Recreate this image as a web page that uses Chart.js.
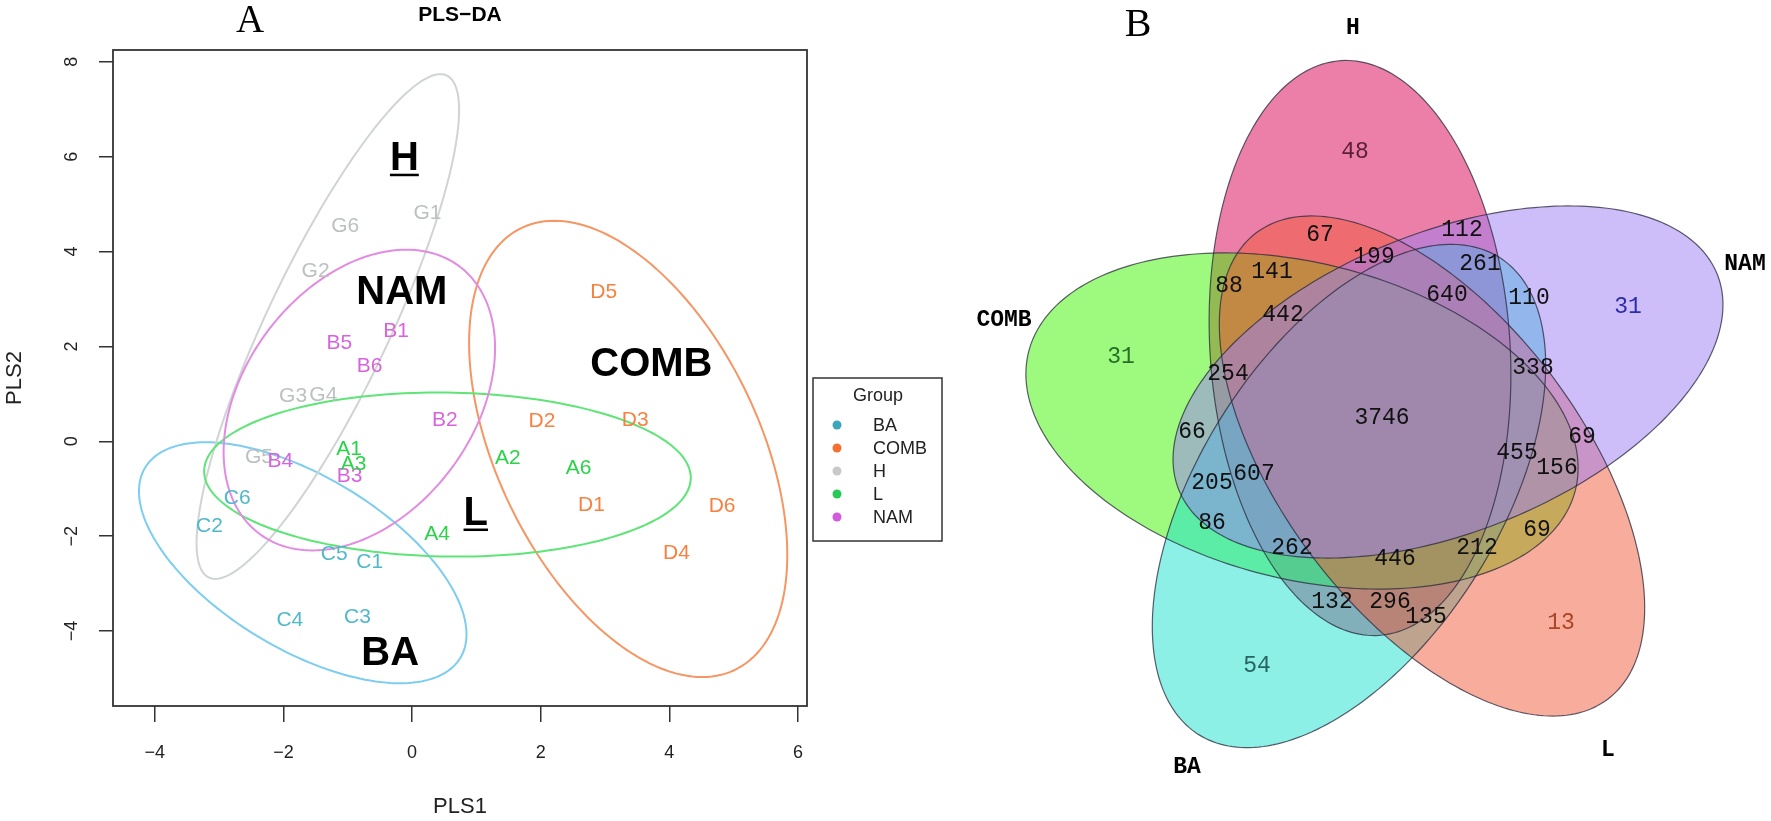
<!DOCTYPE html>
<html>
<head>
<meta charset="utf-8">
<script src="https://cdn.jsdelivr.net/npm/chart.js@4.4.0/dist/chart.umd.min.js"></script>
<style>
  html, body { margin: 0; padding: 0; background: #fff; }
  #wrapA { position: absolute; left: 0; top: 0; width: 960px; height: 821px; }
  #wrapB { position: absolute; left: 960px; top: 0; width: 811px; height: 821px; }
</style>
</head>
<body>
<div id="wrapA"><canvas id="chartA"></canvas></div>
<div id="wrapB"><canvas id="chartB"></canvas></div>
<script>
// -----------------------------------------------
// Panel A : PLS-DA score plot
// -----------------------------------------------
const groups = ["BA", "COMB", "H", "L", "NAM"];
const xTicks = [-4, -2, 0, 2, 4, 6];
const yTicks = [-4, -2, 0, 2, 4, 6, 8];

const hNames = ["G1", "G2", "G3", "G4", "G5", "G6"];
const hX = [0.24, -1.50, -1.85, -1.38, -2.38, -1.04];
const hY = [4.81, 3.58, 0.95, 0.98, -0.33, 4.53];

const baNames = ["C1", "C2", "C3", "C4", "C5", "C6"];
const baX = [-0.66, -3.15, -0.85, -1.90, -1.21, -2.72];
const baY = [-2.54, -1.80, -3.71, -3.78, -2.37, -1.20];

const combNames = ["D1", "D2", "D3", "D4", "D5", "D6"];
const combX = [2.79, 2.02, 3.47, 4.11, 2.98, 4.82];
const combY = [-1.34, 0.42, 0.44, -2.36, 3.14, -1.37];

const namNames = ["B1", "B2", "B3", "B4", "B5", "B6"];
const namX = [-0.25, 0.51, -0.97, -2.05, -1.13, -0.66];
const namY = [2.32, 0.44, -0.73, -0.42, 2.06, 1.58];

const lNames = ["A1", "A2", "A3", "A4", "A6"];
const lX = [-0.98, 1.49, -0.91, 0.39, 2.59];
const lY = [-0.16, -0.35, -0.49, -1.95, -0.56];

// confidence ellipses: centre, top conjugate radius (u), horizontal half chord (v)
const ellGroups = ["BA", "COMB", "H", "L", "NAM"];
const ellCx = [-1.70, 3.36, -1.31, 0.55, -0.82];
const ellCy = [-2.56, -0.16, 2.42, -0.70, 0.87];
const ellUx = [-1.51, -1.15, 1.75, -0.15, 0.73];
const ellUy = [2.54, 4.81, 5.32, 1.73, 3.17];
const ellVx = [2.05, 2.19, 1.05, 3.78, 1.98];

// big group names written inside the plot
const bigNames = ["H", "NAM", "COMB", "L", "BA"];
const bigX = [-0.12, -0.16, 3.72, 0.99, -0.34];
const bigY = [6.00, 3.16, 1.65, -1.48, -4.44];
const bigUnderline = [true, false, false, true, false];

const textColor = { BA: "rgb(80,185,200)", COMB: "rgb(248,128,64)", H: "rgb(188,192,192)", L: "rgb(45,210,75)", NAM: "rgb(215,100,220)" };
const ellColor = { BA: "rgb(125,205,240)", COMB: "rgb(245,150,100)", H: "rgb(208,212,212)", L: "rgb(95,228,120)", NAM: "rgb(225,140,225)" };
const dotColor = { BA: "rgb(60,165,190)", COMB: "rgb(245,110,50)", H: "rgb(200,200,200)", L: "rgb(40,200,90)", NAM: "rgb(210,90,220)" };

const SANS = "'Liberation Sans', Arial, sans-serif";
const minus = v => (v < 0 ? "\u2212" : "") + Math.abs(v);
const pts = (xs, ys) => xs.map((x, i) => ({ x: x, y: ys[i] }));

const plsDecor = {
  id: "plsDecor",
  beforeDatasetsDraw(chart) {
    const ctx = chart.ctx, xs = chart.scales.x, ys = chart.scales.y;
    ctx.save();
    ctx.lineWidth = 2;
    ellGroups.forEach((g, k) => {
      ctx.strokeStyle = ellColor[g];
      ctx.beginPath();
      for (let i = 0; i <= 180; i++) {
        const t = i / 180 * Math.PI * 2;
        const px = ellCx[k] + ellUx[k] * Math.cos(t) + ellVx[k] * Math.sin(t);
        const py = ellCy[k] + ellUy[k] * Math.cos(t);
        const X = xs.getPixelForValue(px), Y = ys.getPixelForValue(py);
        if (i === 0) ctx.moveTo(X, Y); else ctx.lineTo(X, Y);
      }
      ctx.closePath();
      ctx.stroke();
    });
    ctx.restore();
  },
  afterDatasetsDraw(chart) {
    const ctx = chart.ctx, xs = chart.scales.x, ys = chart.scales.y;
    ctx.save();
    ctx.textAlign = "center";
    ctx.textBaseline = "middle";
    ctx.font = "21px " + SANS;
    chart.data.datasets.forEach((ds, di) => {
      const meta = chart.getDatasetMeta(di);
      ctx.fillStyle = textColor[ds.label];
      meta.data.forEach((el, i) => ctx.fillText(ds.names[i], el.x, el.y));
    });
    // big labels
    ctx.fillStyle = "#000";
    ctx.font = "bold 40px " + SANS;
    bigNames.forEach((n, i) => {
      const X = xs.getPixelForValue(bigX[i]), Y = ys.getPixelForValue(bigY[i]);
      ctx.fillText(n, X, Y + 2);
      if (bigUnderline[i]) {
        const w = ctx.measureText(n).width;
        ctx.fillRect(X - w / 2, Y + 17, w, 2.5);
      }
    });
    ctx.restore();
  },
  afterDraw(chart) {
    const ctx = chart.ctx, a = chart.chartArea, ys = chart.scales.y;
    ctx.save();
    // frame
    ctx.strokeStyle = "#333";
    ctx.lineWidth = 1.8;
    ctx.strokeRect(a.left, a.top, a.right - a.left, a.bottom - a.top);
    // y tick labels, rotated like R
    ctx.fillStyle = "#222";
    ctx.font = "18px " + SANS;
    ctx.textAlign = "center";
    ctx.textBaseline = "middle";
    yTicks.forEach(v => {
      ctx.save();
      ctx.translate(72, ys.getPixelForValue(v));
      ctx.rotate(-Math.PI / 2);
      ctx.fillText(minus(v), 0, 0);
      ctx.restore();
    });
    // axis titles
    ctx.font = "22px " + SANS;
    ctx.fillText("PLS1", (a.left + a.right) / 2, 807);
    ctx.save();
    ctx.translate(15, (a.top + a.bottom) / 2);
    ctx.rotate(-Math.PI / 2);
    ctx.fillText("PLS2", 0, 0);
    ctx.restore();
    // title and panel letter
    ctx.fillStyle = "#000";
    ctx.font = "bold 21px " + SANS;
    ctx.fillText("PLS\u2212DA", (a.left + a.right) / 2, 15);
    ctx.font = "39px 'Liberation Serif', 'Times New Roman', serif";
    ctx.fillText("A", 250, 22);
    // legend
    ctx.strokeStyle = "#333";
    ctx.lineWidth = 1.5;
    ctx.strokeRect(813, 378, 129, 163);
    ctx.fillStyle = "#222";
    ctx.font = "18px " + SANS;
    ctx.fillText("Group", 878, 396);
    ctx.textAlign = "left";
    groups.forEach((g, i) => {
      const y = 425 + i * 23;
      ctx.fillStyle = dotColor[g];
      ctx.beginPath();
      ctx.arc(837, y, 4.5, 0, Math.PI * 2);
      ctx.fill();
      ctx.fillStyle = "#222";
      ctx.fillText(g, 873, y + 1);
    });
    ctx.restore();
  }
};

new Chart(document.getElementById("chartA"), {
  type: "scatter",
  data: {
    datasets: [
      { label: "H", names: hNames, data: pts(hX, hY) },
      { label: "BA", names: baNames, data: pts(baX, baY) },
      { label: "COMB", names: combNames, data: pts(combX, combY) },
      { label: "NAM", names: namNames, data: pts(namX, namY) },
      { label: "L", names: lNames, data: pts(lX, lY) }
    ].map(d => Object.assign(d, { pointRadius: 0, pointHoverRadius: 0 }))
  },
  options: {
    responsive: true,
    maintainAspectRatio: false,
    animation: false,
    layout: { padding: { left: 0, top: 50, right: 153, bottom: 0 } },
    plugins: { legend: { display: false }, tooltip: { enabled: false } },
    scales: {
      x: {
        type: "linear", min: -4.65, max: 6.14,
        afterBuildTicks: s => { s.ticks = xTicks.map(v => ({ value: v })); },
        afterFit: s => { s.height = 115; },
        border: { display: false },
        grid: { drawOnChartArea: false, drawTicks: true, tickLength: 16, color: "#333", lineWidth: 1.5 },
        ticks: { padding: 20, color: "#222", font: { family: SANS, size: 18 }, maxRotation: 0, callback: v => minus(v) }
      },
      y: {
        type: "linear", min: -5.58, max: 8.25,
        afterBuildTicks: s => { s.ticks = yTicks.map(v => ({ value: v })); },
        afterFit: s => { s.width = 113; },
        border: { display: false },
        grid: { drawOnChartArea: false, drawTicks: true, tickLength: 14, color: "#333", lineWidth: 1.5 },
        ticks: { display: false }
      }
    }
  },
  plugins: [plsDecor]
});

// -----------------------------------------------
// Panel B : five-set Venn diagram
// -----------------------------------------------
const vennSets = ["H", "COMB", "BA", "L", "NAM"];
const vennCx = [1360, 1302, 1349, 1432, 1448];
const vennCy = [348, 421, 496, 466, 382];
const vennA = [288, 282, 282, 292, 290];
const vennB = [150, 158, 150, 150, 150];
const vennRot = [86.2, 14.2, 122.2, 53, -21.8];
const vennFill = ["rgba(218,0,82,0.5)", "rgba(60,245,0,0.5)", "rgba(25,225,205,0.5)", "rgba(241,89,55,0.5)", "rgba(155,125,245,0.5)"];

const setLabelX = [1353, 1004, 1187, 1608, 1745];
const setLabelY = [28, 320, 767, 750, 264];

const regionCounts = [48, 67, 112, 199, 261, 640, 110, 31, 88, 141, 442, 31, 254, 66, 3746, 338, 69, 455, 156, 607, 205, 86, 262, 446, 212, 69, 132, 296, 135, 13, 54];
const regionX = [1355, 1320, 1462, 1374, 1480, 1447, 1529, 1628, 1229, 1272, 1283, 1121, 1228, 1192, 1382, 1533, 1582, 1517, 1557, 1254, 1212, 1212, 1292, 1395, 1477, 1537, 1332, 1390, 1426, 1561, 1257];
const regionY = [152, 235, 230, 257, 264, 295, 298, 307, 286, 272, 315, 357, 374, 432, 418, 368, 437, 453, 468, 474, 483, 523, 548, 559, 548, 530, 602, 602, 617, 623, 666];
const regionColor = ["rgb(90,30,55)", "#111", "#111", "#111", "#111", "#111", "#111", "rgb(45,45,170)", "#111", "#111", "#111", "rgb(40,110,40)", "#111", "#111", "#111", "#111", "#111", "#111", "#111", "#111", "#111", "#111", "#111", "#111", "#111", "#111", "#111", "#111", "#111", "rgb(170,70,40)", "rgb(40,100,100)"];

const MONO = "'Liberation Mono', 'DejaVu Sans Mono', monospace";

function ellipsePath(ctx, xs, ys, k) {
  const r = vennRot[k] * Math.PI / 180;
  ctx.beginPath();
  for (let i = 0; i <= 240; i++) {
    const t = i / 240 * Math.PI * 2;
    const px = vennCx[k] + vennA[k] * Math.cos(t) * Math.cos(r) - vennB[k] * Math.sin(t) * Math.sin(r);
    const py = vennCy[k] + vennA[k] * Math.cos(t) * Math.sin(r) + vennB[k] * Math.sin(t) * Math.cos(r);
    const X = xs.getPixelForValue(px), Y = ys.getPixelForValue(py);
    if (i === 0) ctx.moveTo(X, Y); else ctx.lineTo(X, Y);
  }
  ctx.closePath();
}

const vennDecor = {
  id: "vennDecor",
  beforeDatasetsDraw(chart) {
    const ctx = chart.ctx, xs = chart.scales.x, ys = chart.scales.y;
    ctx.save();
    vennSets.forEach((s, k) => {
      ellipsePath(ctx, xs, ys, k);
      ctx.fillStyle = vennFill[k];
      ctx.fill();
    });
    ctx.strokeStyle = "rgba(40,40,60,0.75)";
    ctx.lineWidth = 1.2;
    vennSets.forEach((s, k) => {
      ellipsePath(ctx, xs, ys, k);
      ctx.stroke();
    });
    ctx.restore();
  },
  afterDatasetsDraw(chart) {
    const ctx = chart.ctx, xs = chart.scales.x, ys = chart.scales.y;
    ctx.save();
    ctx.textAlign = "center";
    ctx.textBaseline = "middle";
    ctx.font = "23px " + MONO;
    const meta = chart.getDatasetMeta(0);
    meta.data.forEach((el, i) => {
      ctx.fillStyle = regionColor[i];
      ctx.fillText(String(regionCounts[i]), el.x, el.y);
    });
    ctx.fillStyle = "#000";
    ctx.font = "bold 23px " + MONO;
    vennSets.forEach((s, k) => {
      ctx.fillText(s, xs.getPixelForValue(setLabelX[k]), ys.getPixelForValue(setLabelY[k]));
    });
    ctx.font = "40px 'Liberation Serif', 'Times New Roman', serif";
    ctx.fillText("B", xs.getPixelForValue(1138), ys.getPixelForValue(25));
    ctx.restore();
  }
};

new Chart(document.getElementById("chartB"), {
  type: "scatter",
  data: {
    datasets: [{ label: "Venn", data: pts(regionX, regionY), pointRadius: 0, pointHoverRadius: 0 }]
  },
  options: {
    responsive: true,
    maintainAspectRatio: false,
    animation: false,
    layout: { padding: 0 },
    plugins: { legend: { display: false }, tooltip: { enabled: false } },
    scales: {
      x: { type: "linear", min: 960, max: 1771, display: false },
      y: { type: "linear", min: 0, max: 821, reverse: true, display: false }
    }
  },
  plugins: [vennDecor]
});
</script>
</body>
</html>
